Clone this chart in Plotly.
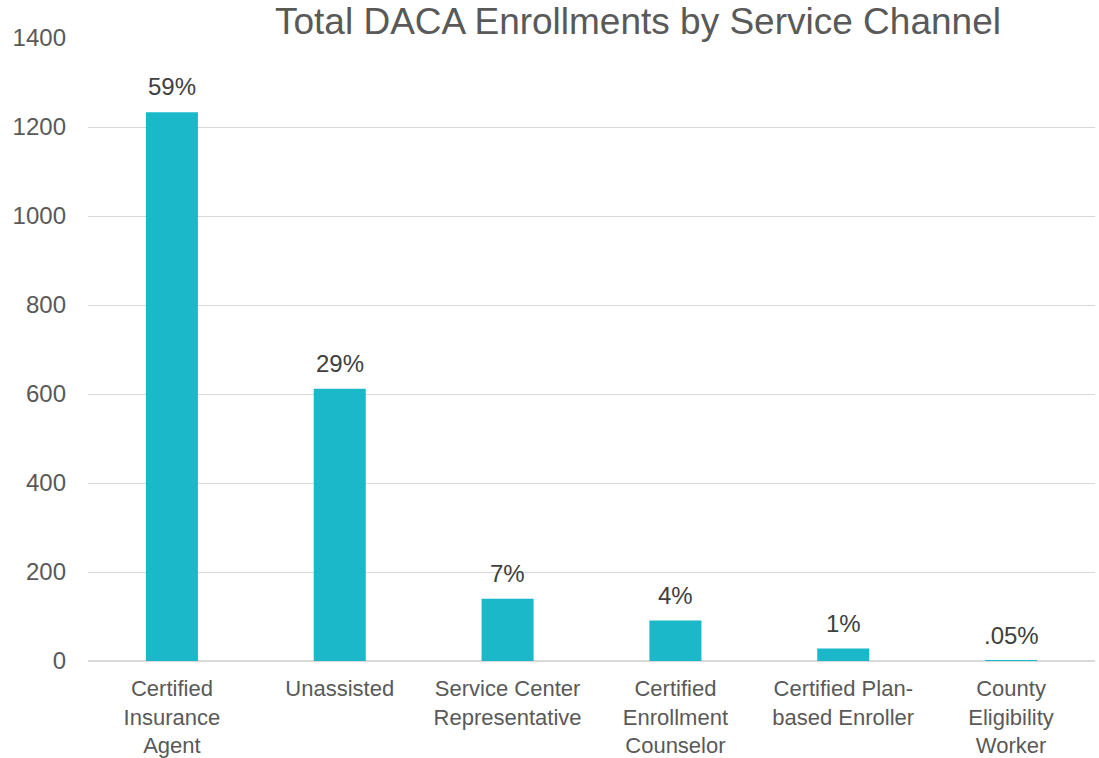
import plotly.graph_objects as go

# Enrollment counts by service channel
channels = [
    "Certified<br>Insurance<br>Agent",
    "Unassisted",
    "Service Center<br>Representative",
    "Certified<br>Enrollment<br>Counselor",
    "Certified Plan-<br>based Enroller",
    "County<br>Eligibility<br>Worker",
]
enrollments = [1233, 612, 140, 91, 28, 1]
share_labels = ["59%", "29%", "7%", "4%", "1%", ".05%"]

y_ticks = [0, 200, 400, 600, 800, 1000, 1200, 1400]

FONT = "Liberation Sans"
BAR_COLOR = "#1AB8C9"
GRID = "#D9D9D9"

fig = go.Figure(
    go.Bar(
        x=channels,
        y=enrollments,
        marker=dict(color=BAR_COLOR, line=dict(width=0)),
        width=0.31,
        hoverinfo="x+y",
    )
)

# Percentage share above each bar
for ch, val, lab in zip(channels, enrollments, share_labels):
    fig.add_annotation(
        x=ch,
        y=val,
        text=lab,
        showarrow=False,
        yanchor="bottom",
        yshift=10,
        font=dict(family=FONT, size=24, color="#404040"),
    )

fig.update_layout(
    width=1099,
    height=758,
    margin=dict(l=88, r=4, t=38, b=97, autoexpand=False),
    paper_bgcolor="white",
    plot_bgcolor="white",
    showlegend=False,
    font=dict(family=FONT),
    title=dict(
        text="Total DACA Enrollments by Service Channel",
        x=0.5805,
        xref="container",
        xanchor="center",
        y=0.972,
        yref="container",
        yanchor="middle",
        font=dict(family=FONT, size=37, color="#595959"),
    ),
    xaxis=dict(
        automargin=False,
        showgrid=False,
        showline=False,
        ticks="",
        tickfont=dict(family=FONT, size=22, color="#595959"),
        ticklabelstandoff=12,
    ),
    yaxis=dict(
        automargin=False,
        range=[0, 1400],
        tickvals=y_ticks,
        ticktext=[str(v) for v in y_ticks],
        showgrid=True,
        gridcolor=GRID,
        gridwidth=1.3,
        zeroline=True,
        zerolinecolor=GRID,
        zerolinewidth=1.6,
        showline=False,
        ticks="",
        tickfont=dict(family=FONT, size=24, color="#595959"),
        ticklabelstandoff=21,
    ),
)

fig.write_html("out.html")
